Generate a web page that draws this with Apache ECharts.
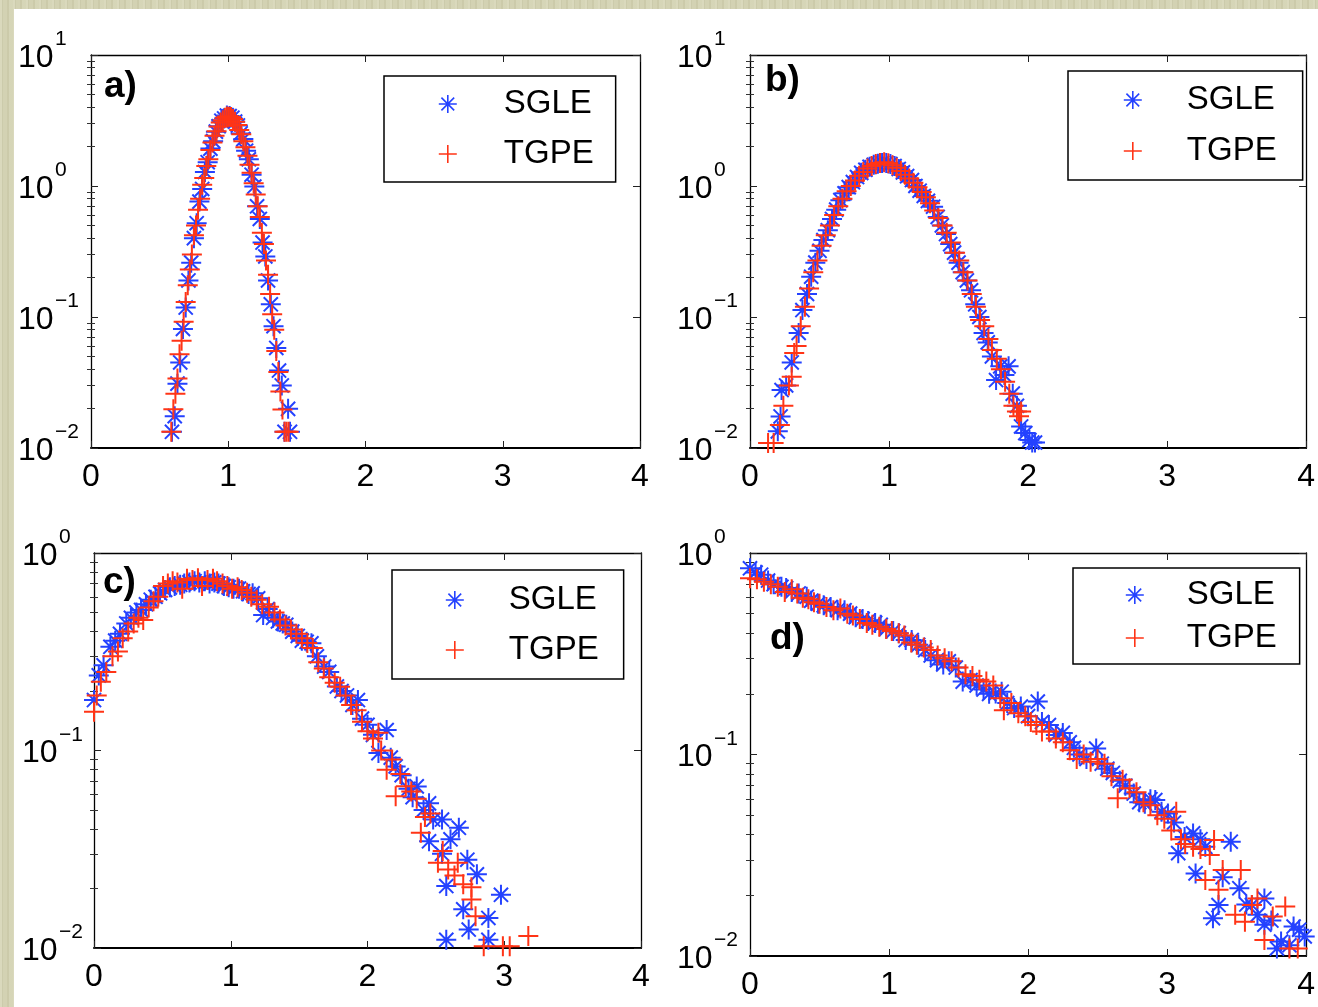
<!DOCTYPE html>
<html>
<head>
<meta charset="utf-8">
<title>SGLE vs TGPE distributions</title>
<script src="https://cdn.jsdelivr.net/npm/echarts@6/dist/echarts.min.js"></script>
<style>
  html, body { margin: 0; padding: 0; width: 1318px; height: 1007px; overflow: hidden; }
  body {
    background-color: #d3d2b3;
    background-image:
      repeating-linear-gradient(90deg, rgba(255,255,240,0.16) 0 2px, rgba(120,120,80,0.08) 2px 3px, rgba(255,255,240,0.0) 3px 7px, rgba(140,135,90,0.10) 7px 9px, rgba(255,255,235,0.08) 9px 13px);
  }
  #paper { position: absolute; left: 14px; top: 9px; right: 0; bottom: 0; background: #ffffff; }
  #chart { position: absolute; left: 0; top: 0; width: 1318px; height: 1007px; }
</style>
</head>
<body>
<div id="paper"></div>
<div id="chart"></div>
<script>
// ---- axis ticks and labels ----
const xTicks = [0, 1, 2, 3, 4];
const yDecadesTop = [0.01, 0.1, 1, 10];
const yDecadesBottom = [0.01, 0.1, 1];
const panelLabels = ['a)', 'b)', 'c)', 'd)'];
const seriesNames = ['SGLE', 'TGPE'];

// ---- panel a ----
const panelA_SGLE = [
  [0.59,0.0133],[0.61,0.0175],[0.63,0.031],[0.65,0.045],[0.67,0.081],[0.69,0.118],[0.71,0.19],
  [0.73,0.26],[0.75,0.40],[0.77,0.52],[0.79,0.76],[0.81,0.95],[0.83,1.28],[0.85,1.52],
  [0.87,1.93],[0.89,2.20],[0.91,2.60],[0.93,2.86],[0.95,3.15],[0.97,3.28],[0.99,3.45],
  [1.01,3.42],[1.03,3.32],[1.05,3.10],[1.07,2.90],[1.09,2.52],[1.11,2.28],[1.13,1.86],
  [1.15,1.60],[1.17,1.22],[1.19,0.99],[1.21,0.70],[1.23,0.56],[1.25,0.37],[1.27,0.29],
  [1.29,0.19],[1.31,0.125],[1.33,0.085],[1.35,0.058],[1.37,0.039],[1.39,0.030],[1.41,0.0133],
  [1.436,0.0199],[1.45,0.0133]
];
const panelA_TGPE = [
  [0.585,0.0133],[0.60,0.0198],[0.615,0.026],[0.63,0.034],[0.645,0.052],[0.66,0.066],[0.675,0.092],
  [0.69,0.13],[0.705,0.175],[0.72,0.23],[0.735,0.30],[0.75,0.42],[0.765,0.50],[0.78,0.66],
  [0.795,0.80],[0.81,1.02],[0.825,1.15],[0.84,1.42],[0.855,1.60],[0.87,1.88],[0.885,2.15],
  [0.90,2.42],[0.915,2.62],[0.93,2.85],[0.945,3.05],[0.96,3.18],[0.975,3.32],[0.99,3.40],
  [1.005,3.38],[1.02,3.36],[1.035,3.25],[1.05,3.10],[1.065,2.92],[1.08,2.68],[1.095,2.48],
  [1.11,2.20],[1.125,1.98],[1.14,1.70],[1.155,1.45],[1.17,1.26],[1.185,1.05],[1.20,0.86],
  [1.215,0.70],[1.23,0.58],[1.245,0.44],[1.26,0.36],[1.275,0.27],[1.29,0.21],[1.305,0.15],
  [1.32,0.105],[1.335,0.08],[1.35,0.055],[1.365,0.038],[1.38,0.027],[1.395,0.0197],
  [1.41,0.0133],[1.425,0.0133],[1.44,0.0133]
];

// ---- panel b ----
const panelB_SGLE = [
  [0.20,0.0134],[0.22,0.0174],[0.227,0.0277],[0.26,0.030],[0.30,0.045],[0.35,0.0755],
  [0.377,0.113],[0.41,0.15],[0.44,0.203],[0.47,0.26],[0.50,0.32],[0.528,0.387],[0.56,0.46],
  [0.59,0.56],[0.62,0.66],[0.65,0.78],[0.68,0.88],[0.71,0.98],[0.74,1.07],[0.77,1.17],
  [0.80,1.26],[0.83,1.33],[0.86,1.40],[0.89,1.45],[0.92,1.48],[0.95,1.50],[0.98,1.50],
  [1.01,1.47],[1.04,1.42],[1.07,1.35],[1.10,1.27],[1.13,1.19],[1.165,1.11],[1.19,1.00],
  [1.22,0.92],[1.25,0.84],[1.28,0.77],[1.317,0.695],[1.35,0.58],[1.38,0.50],[1.41,0.43],
  [1.44,0.36],[1.468,0.31],[1.50,0.26],[1.53,0.22],[1.56,0.19],[1.59,0.16],[1.62,0.125],
  [1.65,0.10],[1.68,0.0755],[1.71,0.064],[1.74,0.050],[1.77,0.033],[1.80,0.042],[1.83,0.036],
  [1.86,0.042],[1.89,0.026],[1.92,0.021],[1.95,0.0146],[1.98,0.013],[2.01,0.0115],[2.03,0.011],
  [2.05,0.011]
];
const panelB_TGPE = [
  [0.13,0.0109],[0.17,0.0109],[0.215,0.015],[0.24,0.021],[0.28,0.030],[0.30,0.035],[0.318,0.053],
  [0.335,0.06],[0.365,0.085],[0.395,0.12],[0.425,0.165],[0.455,0.22],[0.485,0.27],[0.515,0.35],
  [0.545,0.42],[0.575,0.50],[0.605,0.60],[0.635,0.70],[0.665,0.80],[0.695,0.91],[0.725,1.0],
  [0.755,1.10],[0.785,1.20],[0.815,1.28],[0.845,1.36],[0.875,1.42],[0.905,1.47],[0.935,1.50],
  [0.965,1.52],[0.995,1.49],[1.025,1.44],[1.055,1.38],[1.085,1.30],[1.115,1.22],[1.145,1.14],
  [1.175,1.06],[1.205,0.98],[1.235,0.90],[1.265,0.82],[1.295,0.74],[1.325,0.65],[1.355,0.57],
  [1.385,0.50],[1.415,0.44],[1.445,0.37],[1.475,0.31],[1.505,0.27],[1.535,0.22],[1.565,0.19],
  [1.595,0.15],[1.625,0.12],[1.655,0.095],[1.685,0.085],[1.715,0.068],[1.74,0.056],[1.775,0.048],
  [1.805,0.040],[1.835,0.032],[1.865,0.026],[1.895,0.021],[1.92,0.019],[1.935,0.0175],[1.95,0.019]
];

// ---- panel c ----
const panelC_SGLE = [
  [0.00,0.18],[0.035,0.24],[0.07,0.27],[0.12,0.335],[0.155,0.36],[0.19,0.39],[0.236,0.44],
  [0.27,0.47],[0.31,0.50],[0.344,0.515],[0.38,0.55],[0.415,0.58],[0.45,0.60],[0.483,0.625],
  [0.52,0.65],[0.555,0.67],[0.59,0.68],[0.63,0.69],[0.66,0.70],[0.698,0.71],[0.735,0.72],
  [0.77,0.71],[0.81,0.72],[0.845,0.70],[0.88,0.71],[0.91,0.70],[0.95,0.68],[0.985,0.67],
  [1.02,0.66],[1.06,0.66],[1.09,0.64],[1.13,0.62],[1.16,0.625],[1.20,0.59],[1.237,0.485],
  [1.27,0.52],[1.31,0.47],[1.345,0.45],[1.38,0.44],[1.406,0.433],[1.45,0.40],[1.49,0.38],
  [1.52,0.36],[1.555,0.355],[1.59,0.349],[1.63,0.30],[1.683,0.266],[1.72,0.25],[1.776,0.211],
  [1.81,0.20],[1.85,0.19],[1.89,0.17],[1.93,0.18],[1.96,0.145],[2.00,0.135],[2.04,0.12],
  [2.08,0.097],[2.14,0.127],[2.17,0.092],[2.206,0.083],[2.25,0.075],[2.30,0.064],[2.33,0.058],
  [2.36,0.0658],[2.41,0.05],[2.45,0.054],[2.45,0.0347],[2.48,0.0447],[2.545,0.0447],[2.545,0.030],
  [2.576,0.0206],[2.576,0.011],[2.607,0.0355],[2.668,0.0406],[2.70,0.0157],[2.73,0.028],
  [2.74,0.0124],[2.80,0.0236],[2.884,0.0142],[2.884,0.011],[2.976,0.0186]
];
const panelC_TGPE = [
  [0.00,0.157],[0.02,0.19],[0.05,0.223],[0.09,0.25],[0.135,0.30],[0.175,0.317],[0.21,0.37],
  [0.25,0.40],[0.29,0.44],[0.325,0.47],[0.36,0.458],[0.40,0.53],[0.435,0.57],[0.47,0.60],
  [0.505,0.68],[0.54,0.70],[0.575,0.72],[0.61,0.71],[0.645,0.66],[0.68,0.74],[0.72,0.73],
  [0.76,0.745],[0.79,0.68],[0.83,0.73],[0.87,0.74],[0.90,0.72],[0.94,0.70],[0.975,0.68],
  [1.01,0.66],[1.05,0.67],[1.08,0.65],[1.12,0.63],[1.15,0.60],[1.19,0.58],[1.23,0.55],
  [1.28,0.535],[1.32,0.50],[1.36,0.46],[1.40,0.43],[1.44,0.41],[1.48,0.39],[1.52,0.37],
  [1.56,0.35],[1.60,0.33],[1.64,0.28],[1.68,0.26],[1.72,0.235],[1.76,0.22],[1.80,0.21],
  [1.84,0.19],[1.88,0.17],[1.92,0.16],[1.96,0.14],[2.00,0.125],[2.04,0.115],[2.08,0.123],
  [2.10,0.10],[2.14,0.08],[2.18,0.09],[2.206,0.0586],[2.24,0.076],[2.28,0.066],[2.32,0.062],
  [2.36,0.057],[2.39,0.0383],[2.42,0.046],[2.46,0.048],[2.515,0.027],[2.55,0.031],[2.59,0.025],
  [2.636,0.0233],[2.66,0.027],[2.70,0.021],[2.76,0.0203],[2.76,0.0176],[2.79,0.0145],
  [2.85,0.0102],[2.99,0.0102],[3.04,0.0102],[3.176,0.0115]
];

// ---- panel d ----
const panelD_SGLE = [
  [0.00,0.84],[0.04,0.80],[0.08,0.78],[0.13,0.73],[0.17,0.70],[0.226,0.68],[0.26,0.67],
  [0.30,0.64],[0.35,0.63],[0.408,0.607],[0.44,0.58],[0.49,0.56],[0.53,0.55],[0.58,0.54],
  [0.63,0.52],[0.68,0.52],[0.72,0.50],[0.76,0.48],[0.81,0.47],[0.85,0.46],[0.90,0.45],
  [0.94,0.44],[0.98,0.42],[1.03,0.41],[1.07,0.40],[1.12,0.37],[1.163,0.37],[1.21,0.35],
  [1.26,0.33],[1.30,0.31],[1.345,0.294],[1.39,0.28],[1.43,0.29],[1.48,0.27],[1.53,0.23],
  [1.586,0.234],[1.63,0.22],[1.68,0.21],[1.72,0.20],[1.767,0.201],[1.81,0.205],[1.85,0.18],
  [1.90,0.17],[1.948,0.173],[2.00,0.155],[2.07,0.183],[2.10,0.145],[2.15,0.14],[2.20,0.125],
  [2.25,0.128],[2.30,0.115],[2.33,0.108],[2.37,0.10],[2.42,0.095],[2.49,0.107],[2.53,0.09],
  [2.57,0.085],[2.61,0.081],[2.66,0.074],[2.70,0.07],[2.76,0.064],[2.80,0.058],[2.84,0.057],
  [2.88,0.060],[2.915,0.0594],[2.96,0.052],[3.006,0.051],[3.05,0.046],[3.08,0.0324],
  [3.126,0.039],[3.187,0.0406],[3.205,0.0257],[3.24,0.038],[3.275,0.0348],[3.33,0.0154],
  [3.37,0.0179],[3.40,0.0246],[3.458,0.0369],[3.52,0.0217],[3.57,0.018],[3.61,0.0179],
  [3.65,0.016],[3.70,0.0193],[3.70,0.0143],[3.75,0.015],[3.79,0.0109],[3.82,0.0118],
  [3.88,0.0113],[3.91,0.014],[3.95,0.0135],[3.99,0.0125]
];
const panelD_TGPE = [
  [0.00,0.75],[0.05,0.74],[0.10,0.72],[0.15,0.70],[0.20,0.68],[0.25,0.64],[0.30,0.66],
  [0.34,0.63],[0.38,0.60],[0.42,0.59],[0.46,0.57],[0.50,0.56],[0.55,0.54],[0.60,0.52],
  [0.65,0.53],[0.70,0.50],[0.74,0.49],[0.79,0.47],[0.84,0.45],[0.88,0.44],[0.93,0.43],
  [0.98,0.42],[1.02,0.41],[1.07,0.40],[1.11,0.39],[1.16,0.36],[1.20,0.35],[1.25,0.34],
  [1.30,0.33],[1.35,0.31],[1.40,0.30],[1.45,0.29],[1.50,0.27],[1.55,0.25],[1.60,0.245],
  [1.65,0.235],[1.70,0.23],[1.75,0.22],[1.80,0.19],[1.826,0.166],[1.88,0.18],[1.93,0.16],
  [1.98,0.155],[2.02,0.145],[2.06,0.14],[2.10,0.13],[2.15,0.13],[2.20,0.12],[2.25,0.115],
  [2.30,0.105],[2.35,0.095],[2.40,0.10],[2.45,0.092],[2.50,0.095],[2.55,0.09],[2.60,0.078],
  [2.645,0.0606],[2.68,0.075],[2.73,0.068],[2.78,0.065],[2.83,0.058],[2.88,0.056],[2.93,0.050],
  [2.98,0.048],[3.03,0.042],[3.066,0.052],[3.10,0.038],[3.13,0.036],[3.187,0.0348],[3.24,0.034],
  [3.275,0.0238],[3.307,0.0317],[3.338,0.0376],[3.37,0.0213],[3.40,0.0267],[3.49,0.016],
  [3.53,0.0267],[3.56,0.0148],[3.61,0.0179],[3.65,0.0193],[3.70,0.012],[3.76,0.0157],
  [3.85,0.0176],[3.88,0.0109],[3.94,0.0109]
];

// ---- styling ----
const FONT = '"Liberation Sans", Arial, Helvetica, sans-serif';
const BLUE = '#2442ff';
const RED = '#ff3416';
const STAR = 'path://M5,0L5,10M0,5L10,5M1.46,1.46L8.54,8.54M1.46,8.54L8.54,1.46';
const PLUS = 'path://M5,0L5,10M0,5L10,5';
const markerOf = [STAR, PLUS];
const colorOf = [BLUE, RED];

// panel frames (pixel layout) and their y ranges
const panels = [
  { grid: { left: 91, top: 55, width: 549, height: 393 }, yMax: 10, decades: yDecadesTop,
    series: [panelA_SGLE, panelA_TGPE], labelPos: { left: 104, top: 68 }, labelMargin: 73,
    legend: { left: 384, top: 76, padding: [10, 22, 10, 54], textPad: 42, gap: 14 } },
  { grid: { left: 750, top: 55, width: 557, height: 393 }, yMax: 10, decades: yDecadesTop,
    series: [panelB_SGLE, panelB_TGPE], labelPos: { left: 765, top: 62 }, labelMargin: 73,
    legend: { left: 1068, top: 71, padding: [11, 26, 11, 55], textPad: 40, gap: 15 } },
  { grid: { left: 94, top: 553, width: 547, height: 395 }, yMax: 1, decades: yDecadesBottom,
    series: [panelC_SGLE, panelC_TGPE], labelPos: { left: 103, top: 564 }, labelMargin: 72,
    legend: { left: 392, top: 570, padding: [12, 25, 11, 53], textPad: 40, gap: 14 } },
  { grid: { left: 750, top: 553, width: 558, height: 403 }, yMax: 1, decades: yDecadesBottom,
    series: [panelD_SGLE, panelD_TGPE], labelPos: { left: 770, top: 620 }, labelMargin: 73,
    legend: { left: 1073, top: 568, padding: [9, 23, 8, 52], textPad: 38, gap: 7 } }
];

function minorTicks(decades) {
  const out = [];
  for (let i = 0; i < decades.length - 1; i++) {
    for (let k = 2; k <= 9; k++) out.push(+(decades[i] * k).toPrecision(6));
  }
  return out;
}

// "10" with the exponent set as a superscript on a short line above it
function powerLabel(v) {
  const e = Math.round(Math.log10(v));
  return '{s|' + (e < 0 ? '\u2212' + (-e) : String(e)) + '}\n{b|10}';
}

const grid = [], xAxis = [], yAxis = [], series = [], legend = [], title = [];

panels.forEach((p, i) => {
  grid.push(Object.assign({ containLabel: false }, p.grid));
  const minors = minorTicks(p.decades);

  // bottom x axis with labels, top x axis with ticks only
  const xBottom = xAxis.length;
  xAxis.push({
    gridIndex: i, type: 'value', position: 'bottom', min: xTicks[0], max: xTicks[xTicks.length - 1], interval: 1,
    axisLine: { show: true, onZero: false, lineStyle: { color: '#000', width: 2 } },
    axisTick: { show: true, inside: true, length: 7, lineStyle: { color: '#222', width: 1 } },
    axisLabel: { show: true, margin: 13, fontSize: 32, lineHeight: 32, color: '#000', fontFamily: FONT },
    splitLine: { show: false }
  });
  xAxis.push({
    gridIndex: i, type: 'value', position: 'top', min: xTicks[0], max: xTicks[xTicks.length - 1], interval: 1,
    axisLine: { show: true, onZero: false, lineStyle: { color: '#000', width: 1.3 } },
    axisTick: { show: true, inside: true, length: 7, lineStyle: { color: '#222', width: 1 } },
    axisLabel: { show: false }, splitLine: { show: false }
  });

  const yBase = { gridIndex: i, type: 'log', logBase: 10, min: 0.01, max: p.yMax, splitLine: { show: false } };
  const yLeft = yAxis.length;
  yAxis.push(Object.assign({}, yBase, {
    position: 'left',
    axisLine: { show: true, onZero: false, lineStyle: { color: '#000', width: 1.3 } },
    axisTick: { show: true, inside: true, length: 7, customValues: p.decades, lineStyle: { color: '#222', width: 1 } },
    axisLabel: {
      show: true, customValues: p.decades, align: 'left', margin: p.labelMargin, color: '#000',
      formatter: powerLabel,
      rich: {
        b: { fontSize: 32, lineHeight: 31, fontFamily: FONT, color: '#000' },
        s: { fontSize: 21, lineHeight: 6, padding: [0, 0, 0, 37], fontFamily: FONT, color: '#000' }
      }
    }
  }));
  yAxis.push(Object.assign({}, yBase, {
    position: 'left', axisLine: { show: false },
    axisTick: { show: true, inside: true, length: 4, customValues: minors, lineStyle: { color: '#333', width: 1 } },
    axisLabel: { show: false }
  }));
  yAxis.push(Object.assign({}, yBase, {
    position: 'right',
    axisLine: { show: true, onZero: false, lineStyle: { color: '#000', width: 1.3 } },
    axisTick: { show: true, inside: true, length: 7, customValues: p.decades, lineStyle: { color: '#222', width: 1 } },
    axisLabel: { show: false }
  }));
  yAxis.push(Object.assign({}, yBase, {
    position: 'right', axisLine: { show: false },
    axisTick: { show: true, inside: true, length: 4, customValues: minors, lineStyle: { color: '#333', width: 1 } },
    axisLabel: { show: false }
  }));

  p.series.forEach((data, k) => {
    series.push({
      type: 'scatter', name: seriesNames[k], xAxisIndex: xBottom, yAxisIndex: yLeft,
      data: data, symbol: markerOf[k], symbolSize: 20, silent: true,
      itemStyle: { color: 'rgba(0,0,0,0)', borderColor: colorOf[k], borderWidth: 2, opacity: 1 },
      emphasis: { disabled: true }
    });
  });

  legend.push({
    orient: 'vertical', left: p.legend.left, top: p.legend.top, padding: p.legend.padding,
    itemWidth: 18, itemHeight: 18, itemGap: p.legend.gap, selectedMode: false,
    backgroundColor: '#fff', borderColor: '#000', borderWidth: 1.5, borderRadius: 0,
    data: seriesNames.map((n, k) => ({
      name: n, icon: markerOf[k],
      itemStyle: { color: 'rgba(0,0,0,0)', borderColor: colorOf[k], borderWidth: 1.6 }
    })),
    textStyle: { fontSize: 33, lineHeight: 36, fontFamily: FONT, color: '#000', padding: [0, 0, 0, p.legend.textPad] }
  });

  title.push({
    text: panelLabels[i], left: p.labelPos.left, top: p.labelPos.top, padding: 0,
    textStyle: { fontSize: 37, fontWeight: 'bold', fontFamily: FONT, color: '#000' }
  });
});

const chart = echarts.init(document.getElementById('chart'), null, { renderer: 'canvas' });
chart.setOption({
  animation: false,
  backgroundColor: 'transparent',
  grid, xAxis, yAxis, series, legend, title
});
</script>
</body>
</html>
